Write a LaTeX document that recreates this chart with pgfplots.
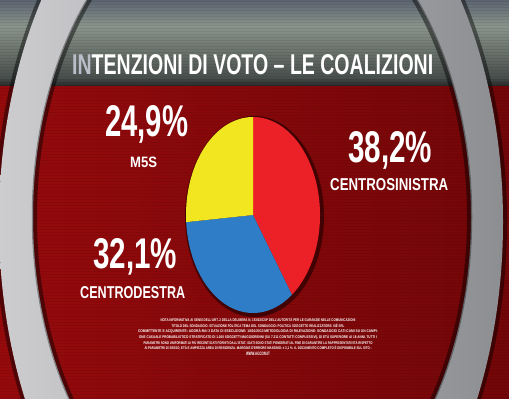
\documentclass[border=0pt]{standalone}
\usepackage{fontspec}
\setmainfont{Liberation Sans}
\usepackage{graphicx}
\usepackage{pgfplots}
\usepackage{pgfplotstable}
\pgfplotsset{compat=1.18}
\pgfdeclarelayer{background}
\pgfsetlayers{background,main}

\definecolor{pieRed}{RGB}{236,32,39}
\definecolor{pieBlue}{RGB}{46,125,198}
\definecolor{pieYellow}{RGB}{242,230,33}
\definecolor{bgRedA}{RGB}{150,10,12}
\definecolor{bgRedB}{RGB}{165,13,15}
\definecolor{bgRedC}{RGB}{115,6,8}
\definecolor{topA}{RGB}{92,100,112}
\definecolor{topB}{RGB}{138,148,140}
\definecolor{topC}{RGB}{72,78,75}
\definecolor{topD}{RGB}{40,42,42}
\definecolor{ringL}{RGB}{205,205,208}
\definecolor{ringM}{RGB}{162,164,167}
\definecolor{ringR}{RGB}{140,142,146}

\pgfplotstableread{
party value
Centrosinistra 38.2
Centrodestra 32.1
M5S 24.9
}\votetable

\newcommand{\bigtxt}[5]{%
  \node[anchor=base west, inner sep=0, text=white] at (#1,#2) {\resizebox{#3bp}{#4bp}{\bfseries #5}};}
\newcommand{\fline}[3]{%
  \node[anchor=center, inner sep=0, text=white] at (258,#1) {\resizebox{#2bp}{3.4bp}{\bfseries #3}};}

\begin{document}
\begin{tikzpicture}[x=1bp,y=1bp]
\pgfplotstablegetelem{0}{value}\of\votetable \let\vA\pgfplotsretval
\pgfplotstablegetelem{1}{value}\of\votetable \let\vB\pgfplotsretval
\pgfplotstablegetelem{2}{value}\of\votetable \let\vC\pgfplotsretval
\pgfmathsetmacro\tot{\vA+\vB+\vC}
\pgfmathsetmacro\aA{90-360*\vA/\tot}
\pgfmathsetmacro\aB{\aA-360*\vB/\tot}

\begin{axis}[at={(253bp,183bp)}, anchor=center, width=134bp, height=196bp,
  scale only axis, hide axis, xmin=-1, xmax=1, ymin=-1, ymax=1, clip=false]
\addplot[fill=pieRed, draw=none, domain=\aA:90, samples=100] ({cos(x)},{sin(x)}) -- (axis cs:0,0) -- cycle;
\addplot[fill=pieBlue, draw=none, domain=\aB:\aA, samples=100] ({cos(x)},{sin(x)}) -- (axis cs:0,0) -- cycle;
\addplot[fill=pieYellow, draw=none, domain=-270:\aB, samples=100] ({cos(x)},{sin(x)}) -- (axis cs:0,0) -- cycle;
\end{axis}

\useasboundingbox (0,0) rectangle (509,398);
\begin{pgfonlayer}{background}
\begin{scope}
\clip (0,0) rectangle (509,398);
% red panel
\shade[left color=bgRedA, middle color=bgRedB, right color=bgRedC] (0,0) rectangle (509,314);
% top band
\shade[top color=topA, bottom color=topB] (0,398) rectangle (509,372);
\shade[top color=topB, bottom color=topC] (0,372) rectangle (509,320);
\shade[top color=topC, bottom color=topD] (0,320.5) rectangle (509,312.5);
% stripes
\foreach \yy in {0,3,...,396} {\fill[black, opacity=0.07] (0,\yy) rectangle (509,\yy+1.2);}
% ring
\fill[black, opacity=0.45, even odd rule] (251,176) ellipse (256 and 404) (252,181) ellipse (215 and 325);
\shade[even odd rule, left color=ringL, middle color=ringM, right color=ringR] (251,176) ellipse (252 and 400) (252,181) ellipse (219 and 329);
\draw[black, opacity=0.35, line width=1.5bp] (252,181) ellipse (219.5 and 329.5);
% pie shadow
\fill[black!70!red!60!black, opacity=0.75] (254.5,181.5) ellipse (69.5 and 100.5);
\end{scope}
\end{pgfonlayer}

% title
\node[anchor=base west, inner sep=0, text=white] at (72,324) {\resizebox{361bp}{20bp}{\bfseries \textcolor[RGB]{185,190,200}{IN}TENZIONI DI VOTO – LE COALIZIONI}};

% labels
\bigtxt{105}{262}{83}{31}{24,9\%}
\bigtxt{130}{231}{27}{10.5}{M5S}
\bigtxt{348}{236}{84}{31}{38,2\%}
\bigtxt{330}{207.5}{118}{12}{CENTROSINISTRA}
\bigtxt{93}{130}{84}{30}{32,1\%}
\bigtxt{80}{100}{105}{12}{CENTRODESTRA}

% footnote
\fline{78}{195}{NOTA INFORMATIVA AI SENSI DELL'ART. 2 DELLA DELIBERA N. 153/02/CSP DELL'AUTORITÀ PER LE GARANZIE NELLE COMUNICAZIONI}
\fline{72}{173}{TITOLO DEL SONDAGGIO: SITUAZIONE POLITICA  TEMA DEL SONDAGGIO: POLITICA  SOGGETTO REALIZZATORE: IXÈ SRL}
\fline{66.5}{240}{COMMITTENTE E ACQUIRENTE: AGORÀ-RAI 3  DATA DI ESECUZIONE: 18/10/2013  METODOLOGIA DI RILEVAZIONE: SONDAGGIO CATI-CAMI SU UN CAMPI-}
\fline{61}{238}{ONE CASUALE PROBABILISTICO STRATIFICATO DI 1.000 SOGGETTI MAGGIORENNI (SU 7.211 CONTATTI COMPLESSIVI), DI ETÀ SUPERIORE AI 18 ANNI. TUTTI I}
\fline{55.5}{229}{PARAMETRI SONO UNIFORMATI AI PIÙ RECENTI DATI FORNITI DALL'ISTAT. I DATI SONO STATI PONDERATI AL FINE DI GARANTIRE LA RAPPRESENTATIVITÀ RISPETTO}
\fline{50}{227}{AI PARAMETRI DI SESSO, ETÀ E AMPIEZZA AREA DI RESIDENZA. MARGINE D'ERRORE MASSIMO: ± 3,1 \%. IL DOCUMENTO COMPLETO È DISPONIBILE SUL SITO :}
\fline{44.5}{24}{WWW.AGCOM.IT}
\end{tikzpicture}
\end{document}
